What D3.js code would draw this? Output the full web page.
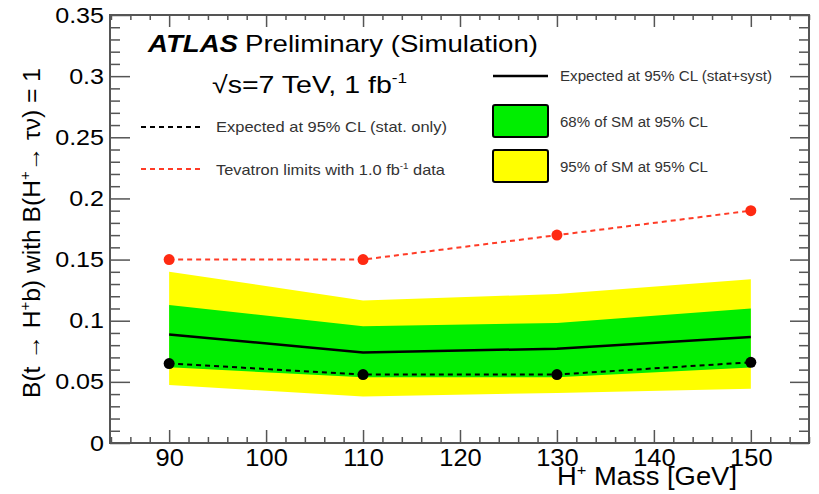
<!DOCTYPE html>
<html>
<head>
<meta charset="utf-8">
<script src="https://cdn.jsdelivr.net/npm/d3@7"></script>
<style>
  body { margin: 0; background: #fff; }
  svg { display: block; font-family: "Liberation Sans", Arial, Helvetica, sans-serif; }
</style>
</head>
<body>
<svg id="chart" width="819" height="494"></svg>
<script>
// values
const masses = [90, 110, 130, 150];
const expectedFull = [0.0888, 0.0741, 0.0771, 0.0867];
const expectedStat = [0.065, 0.056, 0.056, 0.066];
const tevatron = [0.15, 0.15, 0.17, 0.19];
const band68Lo = [0.062, 0.0537, 0.0537, 0.0618];
const band68Hi = [0.1128, 0.0954, 0.0981, 0.110];
const band95Lo = [0.0474, 0.0381, 0.0409, 0.0444];
const band95Hi = [0.140, 0.1166, 0.1218, 0.134];

const xMajorTicks = [90, 100, 110, 120, 130, 140, 150];
const yMajorTicks = [0, 0.05, 0.1, 0.15, 0.2, 0.25, 0.3, 0.35];
const yTickLabels = ["0", "0.05", "0.1", "0.15", "0.2", "0.25", "0.3", "0.35"];

const svg = d3.select("#chart");
const frame = { left: 110, right: 809, top: 15, bottom: 443 };

const x = d3.scaleLinear().domain([83.9, 156]).range([frame.left, frame.right]);
const y = d3.scaleLinear().domain([0, 0.35]).range([frame.bottom, frame.top]);

const xMinor = d3.range(84, 157, 2).filter(v => !xMajorTicks.includes(v));
const yMinor = d3.range(0, 0.351, 0.01).filter(v => !yMajorTicks.some(m => Math.abs(m - v) < 1e-6));

const rows = masses.map((m, i) => ({
  m,
  full: expectedFull[i],
  stat: expectedStat[i],
  tev: tevatron[i],
  lo68: band68Lo[i], hi68: band68Hi[i],
  lo95: band95Lo[i], hi95: band95Hi[i]
}));

// bands
svg.append("path")
  .datum(rows)
  .attr("fill", "#ffff00")
  .attr("d", d3.area().x(d => x(d.m)).y0(d => y(d.lo95)).y1(d => y(d.hi95)));

svg.append("path")
  .datum(rows)
  .attr("fill", "#00ee00")
  .attr("d", d3.area().x(d => x(d.m)).y0(d => y(d.lo68)).y1(d => y(d.hi68)));

// lines
svg.append("path")
  .datum(rows)
  .attr("fill", "none")
  .attr("stroke", "#000")
  .attr("stroke-width", 2.5)
  .attr("d", d3.line().x(d => x(d.m)).y(d => y(d.full)));

svg.append("path")
  .datum(rows)
  .attr("fill", "none")
  .attr("stroke", "#000")
  .attr("stroke-width", 2)
  .attr("stroke-dasharray", "5,4")
  .attr("d", d3.line().x(d => x(d.m)).y(d => y(d.stat)));

svg.append("path")
  .datum(rows)
  .attr("fill", "none")
  .attr("stroke", "#ff3b26")
  .attr("stroke-width", 2)
  .attr("stroke-dasharray", "5,4")
  .attr("d", d3.line().x(d => x(d.m)).y(d => y(d.tev)));

svg.selectAll(".dot-stat")
  .data(rows)
  .enter()
  .append("circle")
  .attr("cx", d => x(d.m))
  .attr("cy", d => y(d.stat))
  .attr("r", 5.5)
  .attr("fill", "#000");

svg.selectAll(".dot-tev")
  .data(rows)
  .enter()
  .append("circle")
  .attr("cx", d => x(d.m))
  .attr("cy", d => y(d.tev))
  .attr("r", 5.5)
  .attr("fill", "#ff2a12");

// axes (ROOT style: ticks pointing inward on all four sides)
const axisColor = "#555";

function styleAxis(g) {
  g.select(".domain").remove();
  g.selectAll("line").attr("stroke", axisColor).attr("stroke-width", 1.5);
}

const SX = 1.14;

svg.append("g")
  .attr("transform", `translate(${frame.left},0)`)
  .call(d3.axisLeft(y).tickValues(yMinor).tickSize(-10).tickFormat(""))
  .call(styleAxis);

svg.append("g")
  .attr("transform", `translate(${frame.left},0)`)
  .call(d3.axisLeft(y).tickValues(yMajorTicks).tickSize(-20).tickPadding(6)
    .tickFormat((d, i) => yTickLabels[i]))
  .call(styleAxis)
  .selectAll("text")
  .attr("font-size", 22)
  .attr("font-family", "Liberation Sans, Arial, sans-serif")
  .attr("fill", "#000")
  .attr("x", -6 / SX)
  .attr("transform", `scale(${SX},1)`);

svg.append("g")
  .attr("transform", `translate(${frame.right},0)`)
  .call(d3.axisRight(y).tickValues(yMinor).tickSize(-10).tickFormat(""))
  .call(styleAxis);

svg.append("g")
  .attr("transform", `translate(${frame.right},0)`)
  .call(d3.axisRight(y).tickValues(yMajorTicks).tickSize(-19).tickFormat(""))
  .call(styleAxis);

svg.append("g")
  .attr("transform", `translate(0,${frame.bottom})`)
  .call(d3.axisBottom(x).tickValues(xMinor).tickSize(-6).tickFormat(""))
  .call(styleAxis);

svg.append("g")
  .attr("transform", `translate(0,${frame.bottom})`)
  .call(d3.axisBottom(x).tickValues(xMajorTicks).tickSize(-13).tickPadding(6).tickFormat(d3.format("d")))
  .call(styleAxis)
  .selectAll("text")
  .attr("font-size", 24)
  .attr("font-family", "Liberation Sans, Arial, sans-serif")
  .attr("fill", "#000")
  .attr("dy", "0.72em")
  .attr("transform", "scale(1.06,1)");

svg.append("g")
  .attr("transform", `translate(0,${frame.top})`)
  .call(d3.axisTop(x).tickValues(xMinor).tickSize(-5).tickFormat(""))
  .call(styleAxis);

svg.append("g")
  .attr("transform", `translate(0,${frame.top})`)
  .call(d3.axisTop(x).tickValues(xMajorTicks).tickSize(-12).tickFormat(""))
  .call(styleAxis);

svg.append("rect")
  .attr("x", frame.left)
  .attr("y", frame.top)
  .attr("width", frame.right - frame.left)
  .attr("height", frame.bottom - frame.top)
  .attr("fill", "none")
  .attr("stroke", axisColor)
  .attr("stroke-width", 2);

// text helper: parts are strings or {sup: "..."}; stretched to a measured length
function addText(px, py, parts, size, len, opts = {}) {
  const t = (opts.parent || svg).append("text")
    .attr("x", px)
    .attr("y", py)
    .attr("font-size", size)
    .attr("fill", opts.fill || "#000")
    .attr("text-anchor", opts.anchor || "start");
  if (opts.weight) t.attr("font-weight", opts.weight);
  if (opts.italic) t.attr("font-style", "italic");
  if (opts.transform) t.attr("transform", opts.transform);
  if (len) t.attr("textLength", len).attr("lengthAdjust", "spacingAndGlyphs");
  const shift = size * 0.42;
  let raised = false;
  parts.forEach(p => {
    if (typeof p === "string") {
      const s = t.append("tspan").text(p);
      if (raised) { s.attr("dy", shift); raised = false; }
    } else {
      t.append("tspan")
        .attr("dy", -shift)
        .attr("font-size", size * 0.6)
        .text(p.sup);
      raised = true;
    }
  });
  return t;
}

addText(148, 52, ["ATLAS"], 24, 90, { weight: "bold", italic: true });
addText(245, 52, ["Preliminary (Simulation)"], 24, 293);
addText(212, 93, ["\u221As=7 TeV, 1 fb", { sup: "-1" }], 24, 195);

// left legend
svg.append("line")
  .attr("x1", 141).attr("x2", 202).attr("y1", 127).attr("y2", 127)
  .attr("stroke", "#000").attr("stroke-width", 2).attr("stroke-dasharray", "5,4");
addText(216, 132, ["Expected at 95% CL (stat. only)"], 15, 231, { fill: "#333" });

svg.append("line")
  .attr("x1", 141).attr("x2", 202).attr("y1", 169).attr("y2", 169)
  .attr("stroke", "#ff3b26").attr("stroke-width", 2).attr("stroke-dasharray", "5,4");
addText(216, 175, ["Tevatron limits with 1.0 fb", { sup: "-1" }, " data"], 15, 229, { fill: "#333" });

// right legend
svg.append("line")
  .attr("x1", 493).attr("x2", 548).attr("y1", 76).attr("y2", 76)
  .attr("stroke", "#000").attr("stroke-width", 2.5);
addText(560, 81, ["Expected at 95% CL (stat+syst)"], 14, 212, { fill: "#333" });

svg.append("rect")
  .attr("x", 493).attr("y", 105).attr("width", 55).attr("height", 32).attr("rx", 2)
  .attr("fill", "#00ee00").attr("stroke", "#000").attr("stroke-width", 2);
addText(560, 127, ["68% of SM at 95% CL"], 14, 148, { fill: "#333" });

svg.append("rect")
  .attr("x", 493).attr("y", 150).attr("width", 55).attr("height", 32).attr("rx", 2)
  .attr("fill", "#ffff00").attr("stroke", "#000").attr("stroke-width", 2);
addText(560, 172, ["95% of SM at 95% CL"], 14, 148, { fill: "#333" });

// axis titles
addText(737, 485, ["H", { sup: "+" }, " Mass [GeV]"], 25, 180, { anchor: "end" });
addText(0, 0, ["B(t \u2192 H", { sup: "+" }, "b) with B(H", { sup: "+" }, "\u2192 \u03C4\u03BD) = 1"], 23, 330,
  { anchor: "middle", transform: "translate(40,233) rotate(-90)" });
</script>
</body>
</html>
